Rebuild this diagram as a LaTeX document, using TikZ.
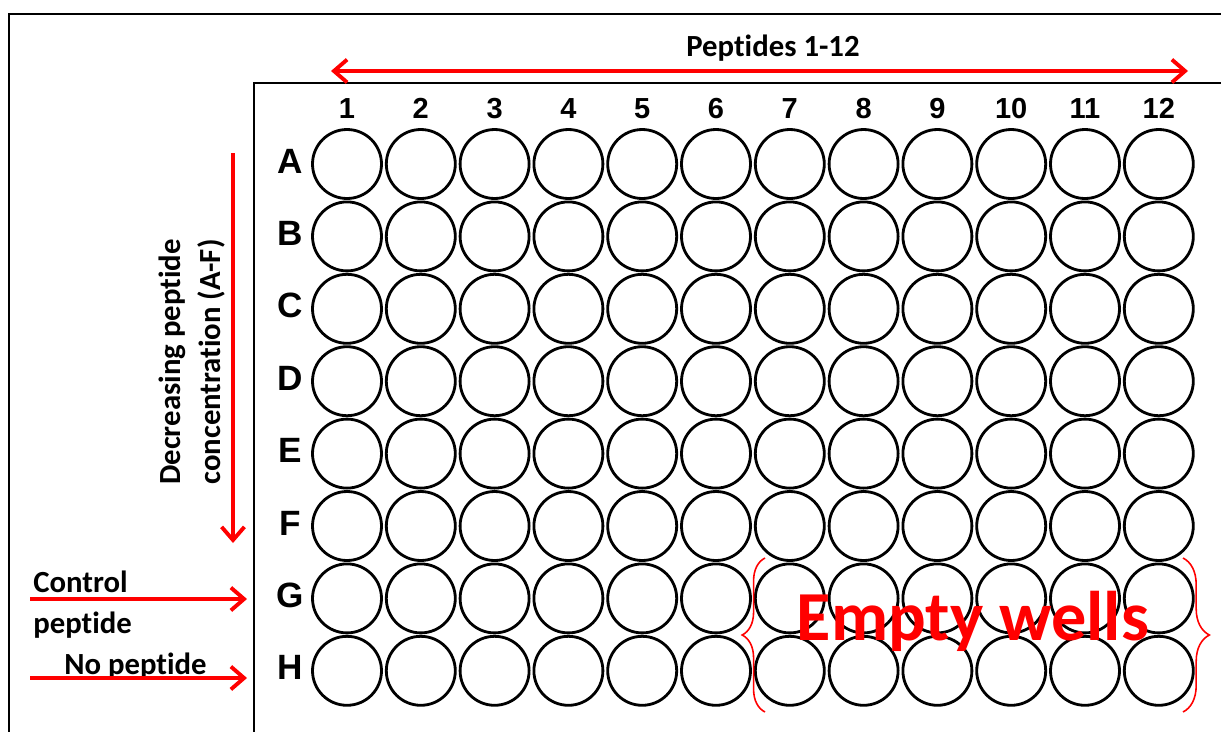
\documentclass[tikz,border=0pt]{standalone}
\usepackage{fontspec}
\setmainfont{Carlito}[Ligatures=NoCommon]
\newfontfamily\arialfont{Liberation Sans}
\usetikzlibrary{arrows.meta,positioning,decorations.pathreplacing}
\definecolor{rd}{HTML}{FF0000}
\newcommand{\wx}[1]{347+(#1-1)*73.8}
\newcommand{\wy}[1]{164+(#1-1)*72.4}
\tikzset{
  well/.style={draw,circle,line width=1.6pt,minimum size=1.38cm,inner sep=0pt},
  rowlbl/.style={font=\arialfont\bfseries\fontsize{20}{22}\selectfont,anchor=base},
  collbl/.style={font=\arialfont\bfseries\fontsize{16.5}{18}\selectfont,anchor=base},
  txt/.style={font=\bfseries\fontsize{17.5}{23}\selectfont,inner sep=0pt},
  frame/.style={draw,line width=1.2pt},
  ar/.style={line width=2.2pt,draw=rd,>={Straight Barb[length=7.5pt,width=13pt]}},
  brc/.style={draw=rd,line width=0.9pt,decorate,decoration={brace,amplitude=#1}},
}
\begin{document}
\begin{tikzpicture}[x=0.02cm,y=-0.02cm]
\useasboundingbox (0,0) rectangle (1221,731);
\clip (0,0) rectangle (1221,731);
% outer frame and plate
\draw[frame] (9,760) -- (9,14) -- (1240,14);
\draw[frame] (254,760) -- (254,83) -- (1240,83);
% wells
\foreach \c in {1,...,12}{
  \node[collbl] (n\c) at ({\wx{\c}},118) {\c};
  \foreach \rl [count=\r] in {A,B,C,D,E,F,G,H}
    \node[well] (w-\rl\c) at ({\wx{\c}},{\wy{\r}}) {};
}
\foreach \rl [count=\r] in {A,B,C,D,E,F,G,H}
  \node[rowlbl] (r\rl) at (290,{\wy{\r}+9}) {\rl};
% labels and arrows
\node[txt,anchor=base] (ttl) at (773,56) {Peptides 1-12};
\coordinate (pl) at (331,71);
\coordinate (pr) at (1188,71);
\draw[ar,<->] (pl) -- (pr);
\node[txt,rotate=90,align=center] (dec) at (192,362) {Decreasing peptide\\concentration (A-F)};
\coordinate (dt) at (233,153);
\coordinate (db) at (233,543);
\draw[ar,->] (dt) -- (db);
\node[txt,align=left,anchor=base west] (ctl) at (33,633) {Control\\peptide};
\coordinate (ca) at (30,599);
\coordinate (cb) at (247,599);
\draw[ar,->] (ca) -- (cb);
\node[txt,anchor=base west] (nop) at (64,674) {No peptide};
\coordinate (na) at (30,678);
\coordinate (nb) at (247,678);
\draw[ar,->] (na) -- (nb);
% empty wells
\draw[brc=13pt] (765,712) -- (765,558);
\draw[brc=15pt] (1183,558) -- (1183,712);
\node[txt,text=rd,font=\bfseries\fontsize{40}{44}\selectfont,anchor=base] (emp) at (973,640) {Empty wells};
\end{tikzpicture}
\end{document}
